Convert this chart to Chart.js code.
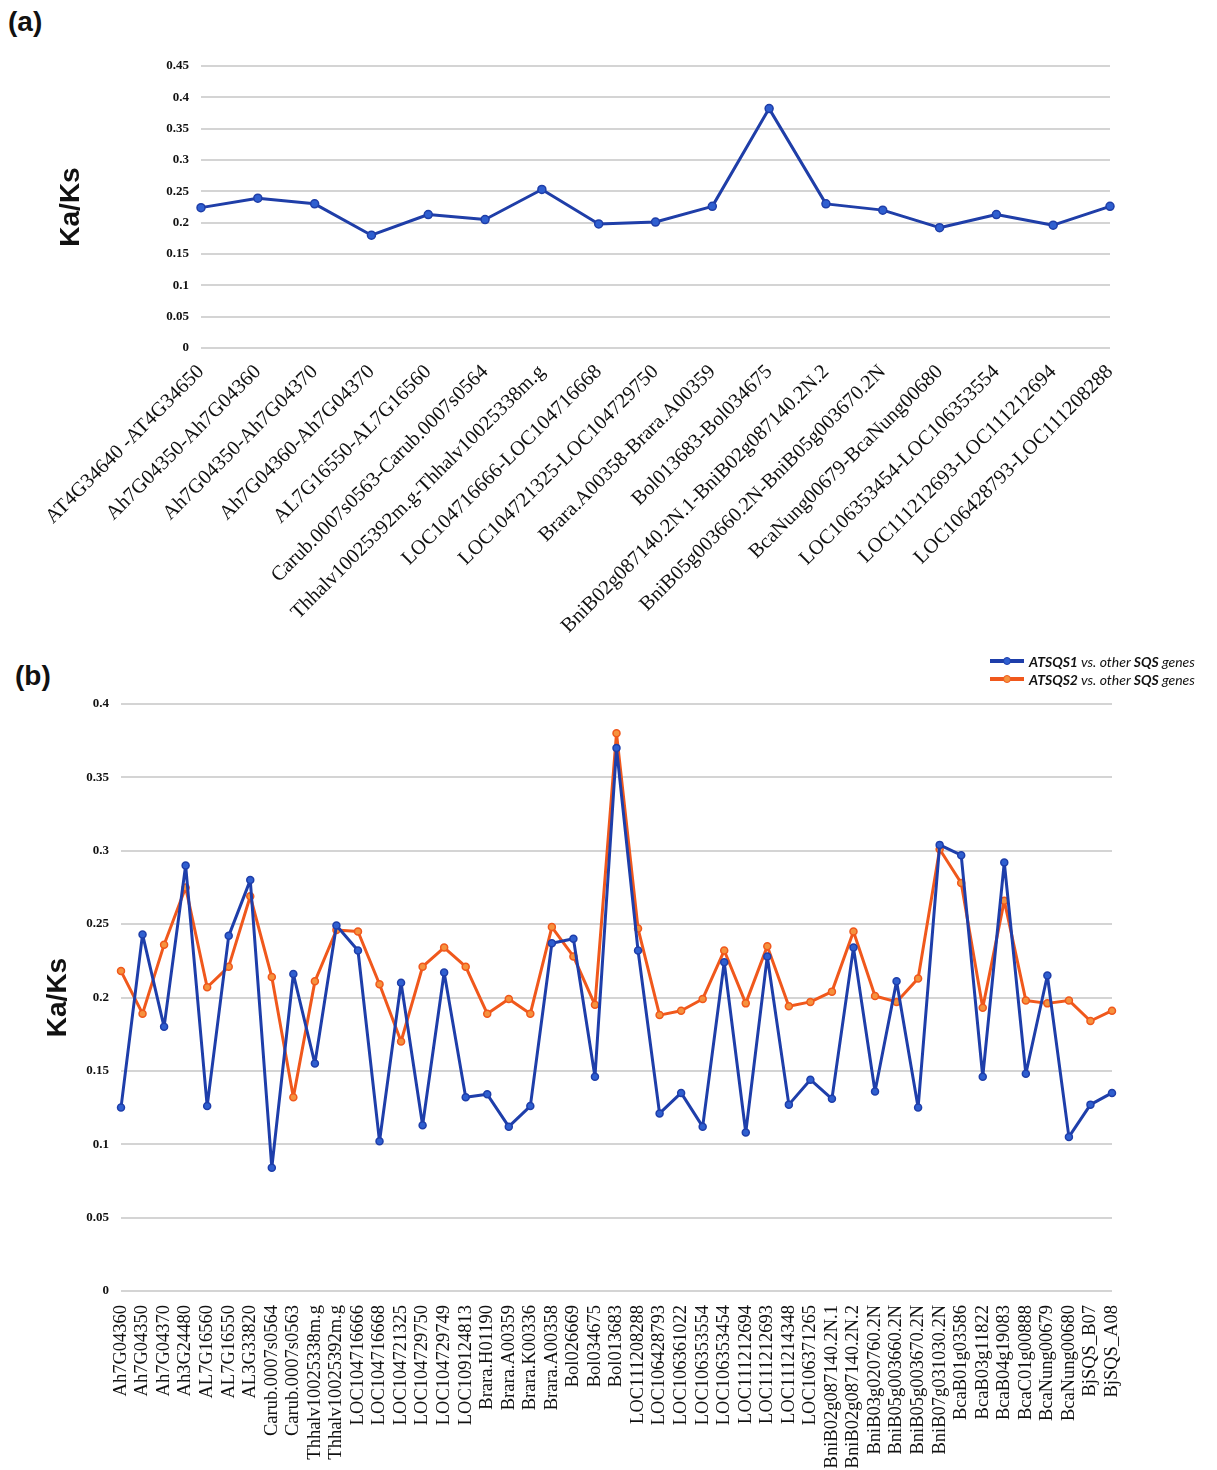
<!DOCTYPE html>
<html>
<head>
<meta charset="utf-8">
<script src="https://cdn.jsdelivr.net/npm/chart.js@4.4.0/dist/chart.umd.min.js"></script>
<style>
    body { margin: 0; background: #fff; width: 1217px; height: 1470px; position: relative; overflow: hidden; }
    .panel { position: absolute; left: 0; width: 1217px; }
    #panelA { top: 0; height: 640px; }
    #panelB { top: 640px; height: 830px; }
    .tag { position: absolute; font-family: "Liberation Sans", sans-serif; font-weight: bold; font-size: 28px; color: #111; }
    #legend { position: absolute; left: 990px; top: 652px; font-family: "Lato", sans-serif; font-size: 14px; color: #111; }
    #legend .row { height: 18px; display: flex; align-items: center; }
    #legend .swatch { position: relative; width: 34px; height: 4px; margin-right: 5px; }
    #legend .swatch i { position: absolute; left: 13px; top: -2px; width: 8px; height: 8px; border-radius: 50%; }
</style>
</head>
<body>
<div class="tag" style="left:8px; top:6px;">(a)</div>
<div class="tag" style="left:15px; top:660px;">(b)</div>
<div class="panel" id="panelA"><canvas id="chartA" width="1217" height="640"></canvas></div>
<div class="panel" id="panelB"><canvas id="chartB" width="1217" height="830"></canvas></div>
<div id="legend"></div>

<script>
// Panel (a): pares de genes en tándem
const labelsA = [
    'AT4G34640 -AT4G34650', 'Ah7G04350-Ah7G04360', 'Ah7G04350-Ah7G04370', 'Ah7G04360-Ah7G04370',
    'AL7G16550-AL7G16560', 'Carub.0007s0563-Carub.0007s0564', 'Thhalv10025392m.g-Thhalv10025338m.g',
    'LOC104716666-LOC104716668', 'LOC104721325-LOC104729750', 'Brara.A00358-Brara.A00359',
    'Bol013683-Bol034675', 'BniB02g087140.2N.1-BniB02g087140.2N.2', 'BniB05g003660.2N-BniB05g003670.2N',
    'BcaNung00679-BcaNung00680', 'LOC106353454-LOC106353554', 'LOC111212693-LOC111212694',
    'LOC106428793-LOC111208288'
];
const kaksA = [0.224, 0.239, 0.230, 0.180, 0.213, 0.205, 0.253, 0.198, 0.201, 0.226,
    0.382, 0.230, 0.220, 0.192, 0.213, 0.196, 0.226];

// Panel (b): ATSQS1 / ATSQS2 frente a otros genes SQS
const labelsB = [
    'Ah7G04360', 'Ah7G04350', 'Ah7G04370', 'Ah3G24480', 'AL7G16560', 'AL7G16550', 'AL3G33820',
    'Carub.0007s0564', 'Carub.0007s0563', 'Thhalv10025338m.g', 'Thhalv10025392m.g',
    'LOC104716666', 'LOC104716668', 'LOC104721325', 'LOC104729750', 'LOC104729749', 'LOC109124813',
    'Brara.H01190', 'Brara.A00359', 'Brara.K00336', 'Brara.A00358', 'Bol026669', 'Bol034675', 'Bol013683',
    'LOC111208288', 'LOC106428793', 'LOC106361022', 'LOC106353554', 'LOC106353454', 'LOC111212694',
    'LOC111212693', 'LOC111214348', 'LOC106371265', 'BniB02g087140.2N.1', 'BniB02g087140.2N.2',
    'BniB03g020760.2N', 'BniB05g003660.2N', 'BniB05g003670.2N', 'BniB07g031030.2N',
    'BcaB01g03586', 'BcaB03g11822', 'BcaB04g19083', 'BcaC01g00888', 'BcaNung00679', 'BcaNung00680',
    'BjSQS_B07', 'BjSQS_A08'
];
const atsqs1 = [0.125, 0.243, 0.180, 0.290, 0.126, 0.242, 0.280, 0.084, 0.216, 0.155,
    0.249, 0.232, 0.102, 0.210, 0.113, 0.217, 0.132, 0.134, 0.112, 0.126,
    0.237, 0.240, 0.146, 0.370, 0.232, 0.121, 0.135, 0.112, 0.224, 0.108,
    0.228, 0.127, 0.144, 0.131, 0.234, 0.136, 0.211, 0.125, 0.304, 0.297,
    0.146, 0.292, 0.148, 0.215, 0.105, 0.127, 0.135];
const atsqs2 = [0.218, 0.189, 0.236, 0.275, 0.207, 0.221, 0.269, 0.214, 0.132, 0.211,
    0.246, 0.245, 0.209, 0.170, 0.221, 0.234, 0.221, 0.189, 0.199, 0.189,
    0.248, 0.228, 0.195, 0.380, 0.247, 0.188, 0.191, 0.199, 0.232, 0.196,
    0.235, 0.194, 0.197, 0.204, 0.245, 0.201, 0.197, 0.213, 0.301, 0.278,
    0.193, 0.266, 0.198, 0.196, 0.198, 0.184, 0.191];

const seriesB = [
    { name: 'ATSQS1', data: atsqs1, line: '#1e3eaa', fill: '#2f5fd0' },
    { name: 'ATSQS2', data: atsqs2, line: '#f0581c', fill: '#f5923e' }
];

document.addEventListener('DOMContentLoaded', () => {
    const serif = "'Liberation Serif', 'Times New Roman', serif";
    const gridColor = '#d4d4d4';

    // 0.40 -> "0.4", 0.00 -> "0"
    const tickFormat = (value) => String(Number(value.toFixed(2)));

    const yTitle = (padLeft) => ({
        display: true,
        text: 'Ka/Ks',
        color: '#111',
        font: { family: "'Liberation Sans', sans-serif", size: 28, weight: 'bold' },
        padding: { top: padLeft, bottom: 0 }
    });

    // 1. Gráfica (a)
    new Chart(document.getElementById('chartA'), {
        type: 'line',
        data: {
            labels: labelsA,
            datasets: [{
                data: kaksA,
                borderColor: '#1f3ea8',
                backgroundColor: '#2f5fd0',
                pointBorderColor: '#1f3ea8',
                borderWidth: 3,
                borderJoinStyle: 'round',
                pointRadius: 4,
                pointBorderWidth: 1.5,
                tension: 0
            }]
        },
        options: {
            responsive: false,
            animation: false,
            layout: { padding: { top: 66, right: 107, bottom: 0, left: 0 } },
            plugins: { legend: { display: false }, tooltip: { enabled: false } },
            scales: {
                x: {
                    offset: false,
                    grid: { display: false },
                    border: { display: false },
                    afterFit: (scale) => { scale.height = 292; },
                    ticks: {
                        autoSkip: false,
                        minRotation: 45,
                        maxRotation: 45,
                        padding: 4,
                        color: '#111',
                        font: { family: serif, size: 20.5 }
                    }
                },
                y: {
                    min: 0,
                    max: 0.45,
                    afterFit: (scale) => { scale.width = 201; },
                    grid: { color: gridColor, lineWidth: 2, drawTicks: false },
                    border: { display: false },
                    title: yTitle(54),
                    ticks: {
                        stepSize: 0.05,
                        padding: 12,
                        color: '#111',
                        callback: tickFormat,
                        font: { family: serif, size: 13, weight: 'bold' }
                    }
                }
            }
        }
    });

    // 2. Gráfica (b)
    new Chart(document.getElementById('chartB'), {
        type: 'line',
        data: {
            labels: labelsB,
            datasets: seriesB.map(s => ({
                label: s.name + ' vs. other SQS genes',
                data: s.data,
                borderColor: s.line,
                backgroundColor: s.fill,
                pointBorderColor: s.line,
                borderWidth: 3,
                borderJoinStyle: 'round',
                pointRadius: 3.5,
                pointBorderWidth: 1.5,
                tension: 0
            }))
        },
        options: {
            responsive: false,
            animation: false,
            layout: { padding: { top: 64, right: 105, bottom: 0, left: 0 } },
            plugins: { legend: { display: false }, tooltip: { enabled: false } },
            scales: {
                x: {
                    offset: false,
                    grid: { display: false },
                    border: { display: false },
                    afterFit: (scale) => { scale.height = 179; },
                    ticks: {
                        autoSkip: false,
                        minRotation: 90,
                        maxRotation: 90,
                        padding: 6,
                        color: '#111',
                        font: { family: serif, size: 18.5 }
                    }
                },
                y: {
                    min: 0,
                    max: 0.4,
                    afterFit: (scale) => { scale.width = 121; },
                    grid: { color: gridColor, lineWidth: 2, drawTicks: false },
                    border: { display: false },
                    title: yTitle(41),
                    ticks: {
                        stepSize: 0.05,
                        padding: 12,
                        color: '#111',
                        callback: tickFormat,
                        font: { family: serif, size: 13, weight: 'bold' }
                    }
                }
            }
        }
    });

    // Leyenda en HTML (dos filas, texto con cursiva/negrita mixta)
    const legend = document.getElementById('legend');
    seriesB.forEach(s => {
        const row = document.createElement('div');
        row.className = 'row';
        row.innerHTML =
            `<span class="swatch" style="background:${s.line}"><i style="background:${s.fill};border:1px solid ${s.line};box-sizing:border-box"></i></span>` +
            `<span><b><i>${s.name}</i></b><i> vs. other </i><b><i>SQS</i></b><i> genes</i></span>`;
        legend.appendChild(row);
    });
});
</script>
</body>
</html>
